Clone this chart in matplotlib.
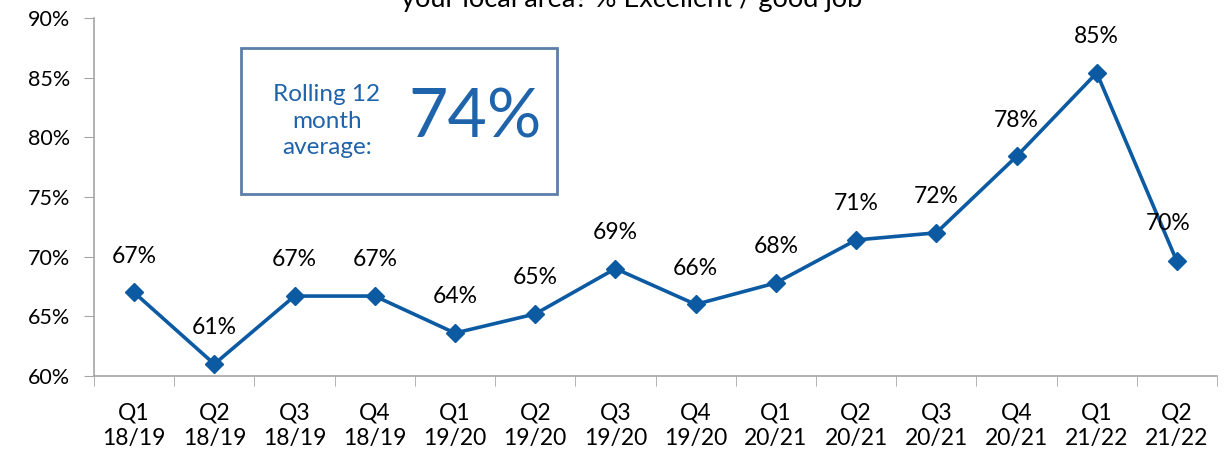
import matplotlib.pyplot as plt
import numpy as np

quarters = ["Q1\n18/19", "Q2\n18/19", "Q3\n18/19", "Q4\n18/19",
            "Q1\n19/20", "Q2\n19/20", "Q3\n19/20", "Q4\n19/20",
            "Q1\n20/21", "Q2\n20/21", "Q3\n20/21", "Q4\n20/21",
            "Q1\n21/22", "Q2\n21/22"]
excellent_good = [67.0, 61.0, 66.7, 66.7, 63.6, 65.2, 69.0, 66.0,
                  67.8, 71.4, 72.0, 78.4, 85.4, 69.6]
rolling_avg = 74

plt.rcParams['font.family'] = ['Lato', 'DejaVu Sans']
blue = '#0B5AA2'
grey = '#A6A6A6'

fig = plt.figure(figsize=(12.27, 4.58), dpi=100)
ax = fig.add_axes([0.0766, 0.179, 0.9153, 0.7817])

x = np.arange(len(quarters))
ax.plot(x, excellent_good, color=blue, lw=2.6, marker='D', ms=9, mfc=blue, mec=blue)

for i, v in enumerate(excellent_good):
    dx = 0
    dy = 26
    if i == len(excellent_good) - 1:
        dx, dy = -6, 27
    ax.annotate(f"{v:.0f}%", (i, v), xytext=(dx, dy), textcoords='offset points',
                ha='center', va='center', fontsize=16.5, color='black')

ax.set_xlim(-0.5, len(quarters) - 0.5)
ax.set_ylim(60, 90)
ax.set_yticks(np.arange(60, 91, 5))
ax.set_yticklabels([f"{t}%" for t in range(60, 91, 5)], fontsize=15.5)
ax.set_xticks(x)
ax.set_xticklabels(quarters, fontsize=16.5, linespacing=1.25)
ax.set_xticks(np.arange(-0.5, len(quarters), 1), minor=True)
ax.tick_params(axis='x', which='major', length=0, pad=19)
ax.tick_params(axis='x', which='minor', length=7, color=grey, direction='out')
ax.tick_params(axis='y', length=7, color=grey, pad=10)
for side in ['top', 'right']:
    ax.spines[side].set_visible(False)
for side in ['left', 'bottom']:
    ax.spines[side].set_color(grey)
    ax.spines[side].set_linewidth(1.2)

# rolling average callout
box = plt.Rectangle((241 / 1227, 1 - 194 / 458), 316 / 1227, 146 / 458,
                    transform=fig.transFigure, fill=False, ec='#5B7FA9', lw=2)
fig.add_artist(box)
fig.text(327 / 1227, 1 - 121 / 458, "Rolling 12\nmonth\naverage:", ha='center', va='center',
         fontsize=17.5, color='#1F63AA', linespacing=1.3)
fig.text(475 / 1227, 1 - 118 / 458, f"{rolling_avg}%", ha='center', va='center',
         fontsize=49, color='#1F63AA')

fig.text(0.515, 1 - 7 / 458, "How good a job do you think the police are doing in\nyour local area? % Excellent / good job",
         ha='center', va='baseline', fontsize=19.5, linespacing=1.25)

fig.savefig('out.png', dpi=100)
